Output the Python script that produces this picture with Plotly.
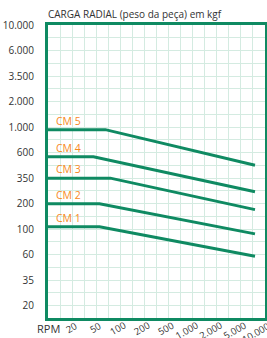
import numpy as np
import plotly.graph_objects as go

# ---- data ----
load_ticks = [10000, 6000, 3500, 2000, 1000, 600, 350, 200, 100, 60, 35, 20]
load_tick_text = ["10.000", "6.000", "3.500", "2.000", "1.000", "600", "350", "200", "100", "60", "35", "20"]
rpm_ticks = [20, 50, 100, 200, 500, 1000, 2000, 5000, 10000]
rpm_tick_text = ["20", "50", "100", "200", "500", "1.000", "2.000", "5.000", "10.000"]

models = ["CM 1", "CM 2", "CM 3", "CM 4", "CM 5"]
rpm_start = [0, 0, 0, 0, 0]
rpm_knee = [55, 55, 75, 45, 65]
rpm_end = [7500, 7500, 7500, 7500, 7500]
load_flat = [107, 200, 350, 550, 950]
load_end = [58, 91, 170, 260, 460]

GREEN = "#0f8a62"
GRID = "#d4ebe1"
ORANGE = "#f7891c"
TEXT = "#333333"

# chart scales: evenly spaced tick values
load_asc = np.log10(load_ticks[::-1])
load_pos = np.arange(len(load_ticks))
rpm_log = np.log10(rpm_ticks)
rpm_pos = np.arange(1, len(rpm_ticks) + 1)


def ypos(v):
    return float(np.interp(np.log10(v), load_asc, load_pos))


def xpos(r):
    if r < rpm_ticks[0]:
        return r / rpm_ticks[0]
    return float(np.interp(np.log10(r), rpm_log, rpm_pos))


fig = go.Figure()
for i, m in enumerate(models):
    xs = [xpos(rpm_start[i]), xpos(rpm_knee[i]), xpos(rpm_end[i])]
    ys = [ypos(load_flat[i]), ypos(load_flat[i]), ypos(load_end[i])]
    fig.add_trace(go.Scatter(x=xs, y=ys, mode="lines",
                             line=dict(color=GREEN, width=3),
                             showlegend=False, hoverinfo="skip", cliponaxis=False))
    fig.add_annotation(x=0.25, y=ypos(load_flat[i]), xref="x", yref="y",
                       text=m, showarrow=False, xanchor="left", yanchor="middle",
                       yshift=9, font=dict(family="Open Sans", size=10.5, color=ORANGE))

# rotated RPM tick labels
for r, t in zip(rpm_ticks, rpm_tick_text):
    fig.add_annotation(x=xpos(r), y=0, xref="x", yref="paper", text=t, textangle=-30,
                       showarrow=False, xanchor="right", yanchor="top", xshift=9, yshift=0,
                       borderpad=0, font=dict(family="Open Sans", size=9.5, color=TEXT))

fig.add_annotation(x=0, y=1, xref="paper", yref="paper", text="CARGA RADIAL (peso da peça) em kgf",
                   showarrow=False, xanchor="left", yanchor="bottom", yshift=2, xshift=-2,
                   font=dict(family="Open Sans", size=10, color=TEXT))
fig.add_annotation(x=0, y=0, xref="paper", yref="paper", text="RPM",
                   showarrow=False, xanchor="center", yanchor="top", yshift=-1,
                   font=dict(family="Open Sans", size=11, color=TEXT))

fig.update_layout(
    width=267, height=338,
    margin=dict(l=48, r=2, t=25, b=20),
    paper_bgcolor="white", plot_bgcolor="white",
    xaxis=dict(range=[0, 9], tickvals=list(rpm_pos), showticklabels=False,
               showgrid=True, gridcolor=GRID, gridwidth=1, zeroline=False,
               minor=dict(dtick=0.5, tick0=0, showgrid=True, gridcolor=GRID, gridwidth=1),
               showline=True, linecolor=GREEN, linewidth=3, mirror=True,
               ticks="", automargin=False, fixedrange=True),
    yaxis=dict(range=[-0.48, 11], tickvals=list(load_pos), ticktext=load_tick_text[::-1],
               tickfont=dict(family="Open Sans", size=10, color=TEXT),
               showgrid=True, gridcolor=GRID, gridwidth=1, zeroline=False,
               minor=dict(dtick=0.5, tick0=0, showgrid=True, gridcolor=GRID, gridwidth=1),
               showline=True, linecolor=GREEN, linewidth=3, mirror=True,
               ticks="", ticklabelstandoff=9, automargin=False, fixedrange=True),
)

fig.write_html("out.html", config={"displayModeBar": False},
               post_script="document.body.style.margin='0';")
